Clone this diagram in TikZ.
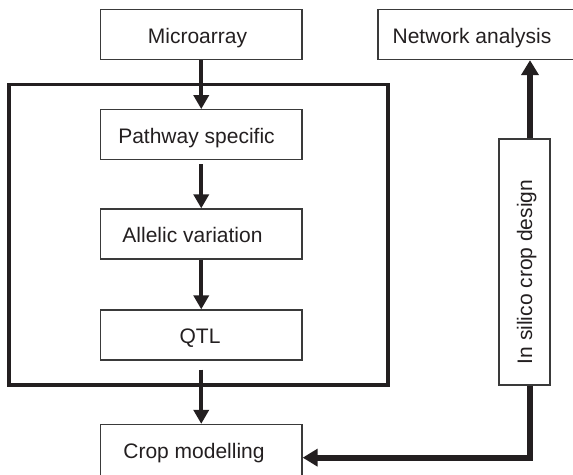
\documentclass[tikz,border=0pt]{standalone}
\usepackage{fontspec}
\setmainfont{Liberation Sans}
\usetikzlibrary{arrows.meta}
\definecolor{ink}{HTML}{231F20}
\definecolor{edge}{HTML}{3A3A3A}
\begin{document}
\begin{tikzpicture}[x=1pt,y=-1pt,
  stage/.style={draw=edge, line width=1.3pt, minimum width=201.5pt, minimum height=50pt, inner sep=0pt},
  caption/.style={anchor=base, text=ink, font=\fontsize{21}{25}\selectfont, inner sep=0pt},
  flow/.style={draw=ink, line width=3.6pt, -{Triangle[width=15pt,length=14pt]}},
  bigflow/.style={draw=ink, line width=6pt, -{Triangle[width=17pt,length=15pt]}},
  cluster/.style={draw=ink, line width=3.5pt, minimum width=379pt, minimum height=300.5pt, inner sep=0pt}]
\useasboundingbox (0,0) rectangle (573,474);

% frame around the gene-level stages
\node[cluster] (group) at (198.5,234.75) {};

% stage boxes
\node[stage] (micro)  at (201.25,34.5) {};
\node[stage] (path)   at (201.25,134.75) {};
\node[stage] (allele) at (201.25,234) {};
\node[stage] (qtl)    at (201.25,335) {};
\node[stage, minimum height=51.5pt] (crop) at (201.25,450.25) {};
\node[stage, minimum width=212pt] (network) at (484,34.5) {};
\node[stage, minimum width=51pt, minimum height=246pt] (insilico) at (524.5,262) {};

% box captions
\node[caption] (microT)   at ([xshift=-3.75pt,yshift=-8.5pt]micro.center)  {Microarray};
\node[caption] (pathT)    at ([xshift=-4.75pt,yshift=-8.5pt]path.center)   {Pathway specific};
\node[caption] (alleleT)  at ([xshift=-8.75pt,yshift=-8.5pt]allele.center) {Allelic variation};
\node[caption] (qtlT)     at ([xshift=-1.25pt,yshift=-8.5pt]qtl.center)    {QTL};
\node[caption] (cropT)    at ([xshift=-7.25pt,yshift=-8pt]crop.center)     {Crop modelling};
\node[caption] (networkT) at ([xshift=-12pt,yshift=-8.5pt]network.center) {Network analysis};
\node[caption, rotate=90] (insilicoT) at ([xshift=7.5pt,yshift=-10pt]insilico.center) {In silico crop design};

% pipeline arrows
\draw[flow] (micro.south) -- (path.north);
\draw[flow] ([yshift=-4pt]path.south) -- (allele.north);
\draw[flow] (allele.south) -- (qtl.north);
\draw[flow] ([yshift=-9pt]qtl.south) -- (crop.north);

% in silico design loop
\coordinate (top)  at ([xshift=5.5pt]insilico.north);
\coordinate (foot) at ([xshift=5.5pt]insilico.south);
\coordinate (bend) at ([yshift=-72pt]foot);
\draw[bigflow] (top) -- (top |- network.south);
\draw[bigflow] (foot) -- (bend) -- (crop.east |- bend);
\end{tikzpicture}
\end{document}
